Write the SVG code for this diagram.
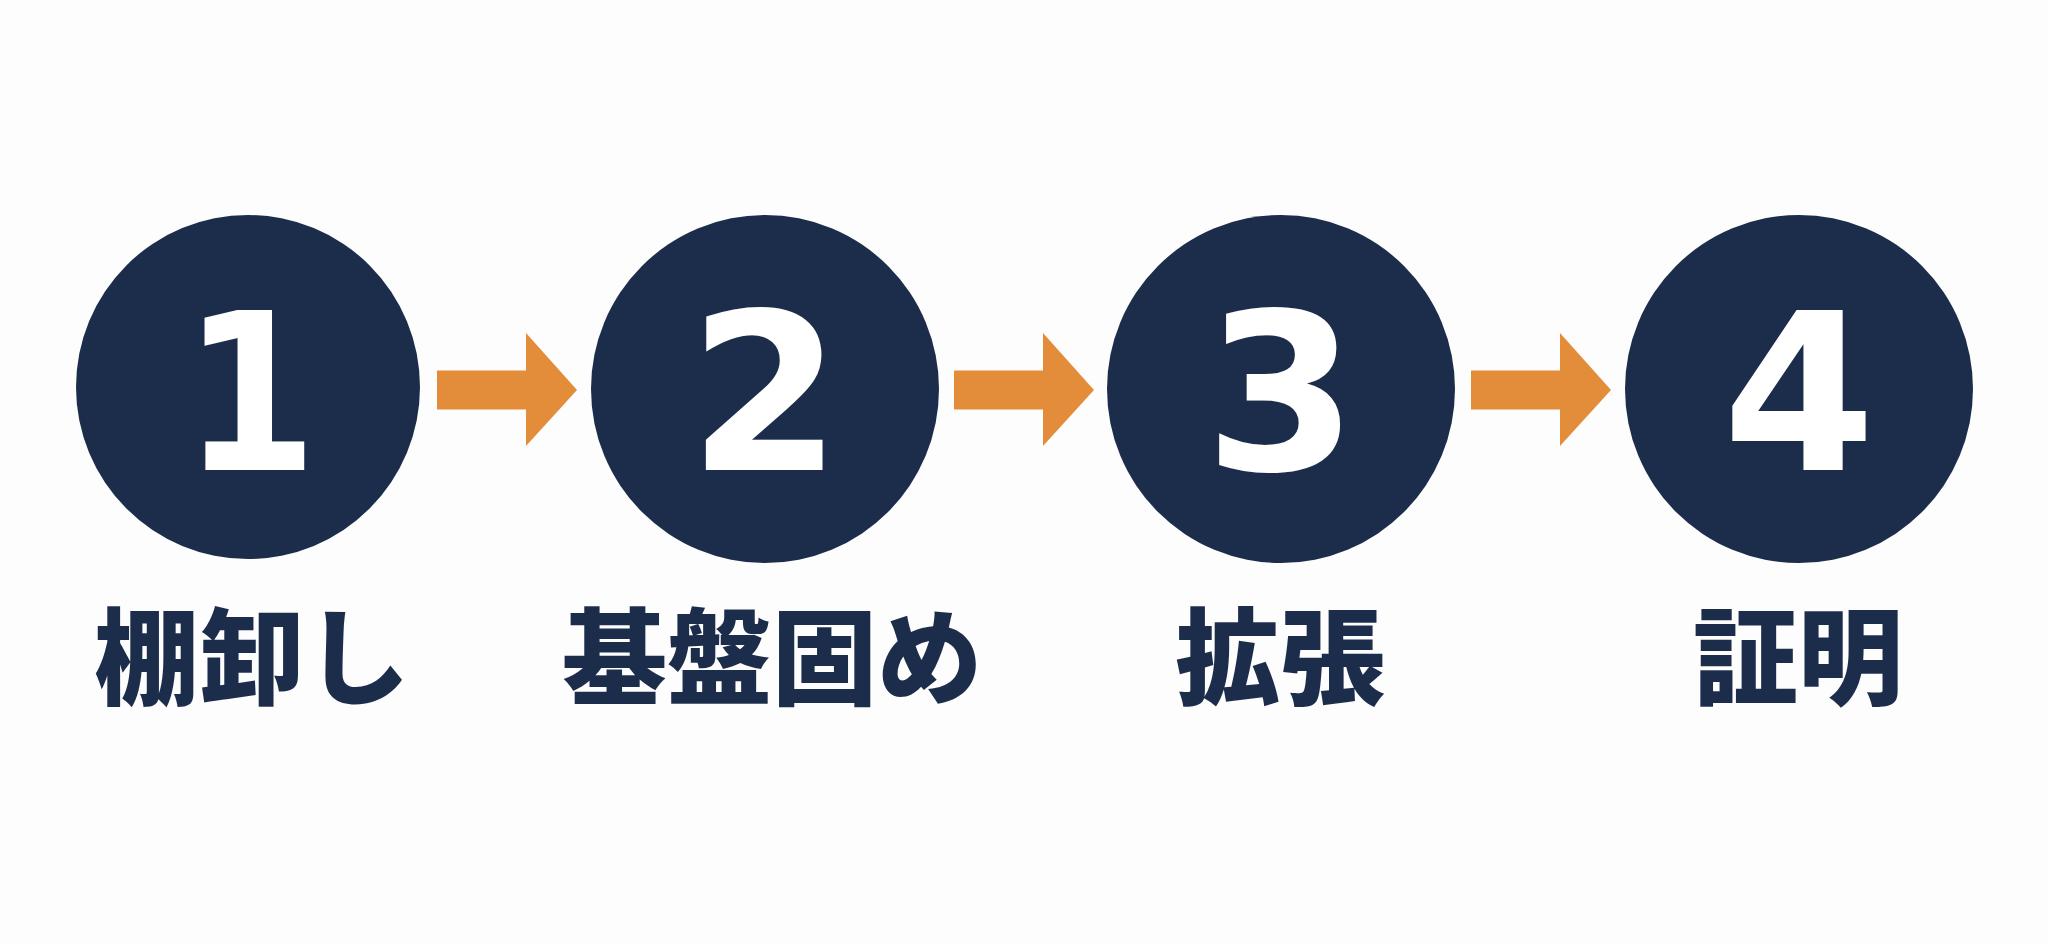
<svg xmlns="http://www.w3.org/2000/svg" width="2048" height="944" viewBox="0 0 2048 944">
<style>
.bg{fill:#fdfdfd}
.circ{fill:#1c2d4c}
.num{font-family:"DejaVu Sans","Liberation Sans",sans-serif;font-weight:bold;font-size:220px;fill:#ffffff;text-anchor:middle}
.lbl{font-family:"Noto Sans CJK JP","Noto Sans CJK SC",sans-serif;font-weight:900;font-size:105px;fill:#1c2d4c;text-anchor:middle}
.arr{fill:#e38d3b}
</style>
<defs>
<path id="arrow" d="M0,-19.5 H89 V-57 L140,0 L89,56 V19.5 H0 Z"/>
</defs>
<rect class="bg" x="0" y="0" width="2048" height="944"/>
<g id="connectors">
<use href="#arrow" class="arr" x="437" y="390"/>
<use href="#arrow" class="arr" x="954" y="390"/>
<use href="#arrow" class="arr" x="1471" y="390"/>
</g>
<g id="step1">
<circle class="circ" cx="248" cy="387" r="172"/>
<text class="num" x="0" y="470" transform="translate(250,0) scale(0.88,1)">1</text>
<text class="lbl" x="252" y="696">棚卸し</text>
</g>
<g id="step2">
<circle class="circ" cx="765" cy="389" r="174"/>
<text class="num" x="765" y="470">2</text>
<text class="lbl" x="772" y="696">基盤固め</text>
</g>
<g id="step3">
<circle class="circ" cx="1281" cy="389" r="174"/>
<text class="num" x="1281" y="470">3</text>
<text class="lbl" x="1280" y="696">拡張</text>
</g>
<g id="step4">
<circle class="circ" cx="1799" cy="389" r="174"/>
<text class="num" x="1799" y="470">4</text>
<text class="lbl" x="1798" y="696">証明</text>
</g>
</svg>
